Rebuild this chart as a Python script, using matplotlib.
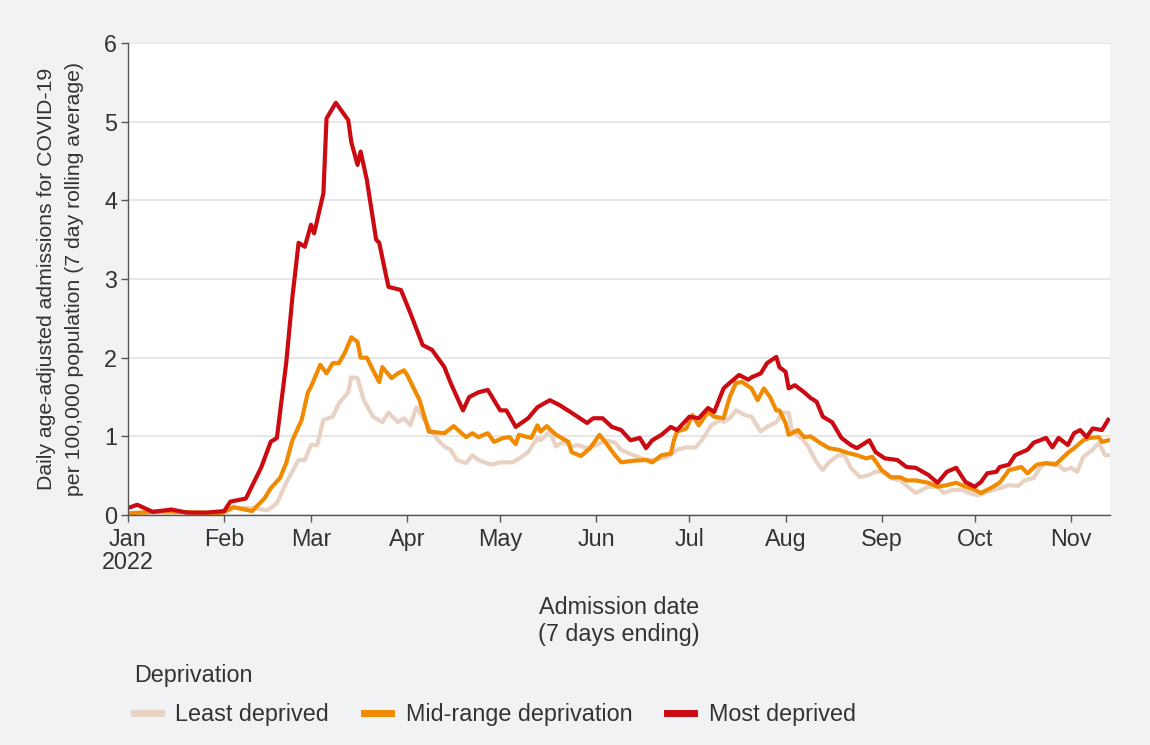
import numpy as np
import matplotlib.pyplot as plt
import matplotlib.dates as mdates
from matplotlib.ticker import FuncFormatter

plt.rcParams['font.family'] = ['Liberation Sans', 'DejaVu Sans']

# days counted from 1 Jan 2022
least_days = [0, 30, 34, 40, 45, 48, 51, 55, 57, 59, 61, 63, 66, 68, 71, 72, 74, 76, 79, 82, 84, 87, 89, 91,
              93, 96, 100, 102, 104, 106, 109, 111, 113, 117, 120, 124, 127, 129, 132, 133, 136, 138, 140, 143,
              145, 148, 151, 154, 157, 159, 163, 167, 170, 174, 177, 180, 183, 185, 188, 191, 192, 194, 196, 199,
              201, 204, 206, 209, 211, 213, 214, 217, 219, 222, 224, 226, 229, 231, 233, 236, 239, 241, 243, 246,
              249, 252, 254, 258, 261, 263, 266, 269, 271, 274, 276, 279, 281, 284, 287, 289, 292, 294, 296, 299,
              302, 304, 306, 308, 311, 313, 315, 316]
least_vals = [0.02, 0.01, 0.09, 0.09, 0.06, 0.15, 0.41, 0.70, 0.70, 0.89, 0.89, 1.21, 1.25, 1.42, 1.56, 1.75, 1.74,
              1.46, 1.25, 1.18, 1.30, 1.18, 1.23, 1.14, 1.37, 1.18, 0.95, 0.87, 0.83, 0.70, 0.66, 0.76, 0.70, 0.64,
              0.67, 0.67, 0.74, 0.80, 0.98, 0.95, 1.06, 0.87, 0.93, 0.87, 0.89, 0.85, 0.89, 0.95, 0.92, 0.83, 0.76,
              0.70, 0.70, 0.74, 0.83, 0.86, 0.86, 0.95, 1.14, 1.21, 1.18, 1.23, 1.33, 1.27, 1.25, 1.06, 1.12, 1.18,
              1.30, 1.30, 1.08, 0.98, 0.89, 0.67, 0.57, 0.67, 0.76, 0.76, 0.60, 0.48, 0.51, 0.55, 0.55, 0.47, 0.44,
              0.34, 0.28, 0.36, 0.36, 0.28, 0.32, 0.32, 0.28, 0.25, 0.28, 0.32, 0.34, 0.38, 0.37, 0.44, 0.47, 0.60,
              0.66, 0.66, 0.57, 0.60, 0.55, 0.74, 0.83, 0.92, 0.76, 0.76]

mid_days = [0, 11, 30, 34, 40, 44, 46, 49, 51, 53, 56, 58, 59, 62, 64, 66, 68, 70, 72, 74, 75, 77, 79, 81, 82, 85,
            87, 89, 90, 94, 97, 102, 105, 109, 111, 113, 116, 118, 121, 123, 125, 126, 130, 132, 133, 135, 138, 142,
            143, 146, 149, 152, 154, 157, 159, 163, 167, 169, 172, 175, 176, 177, 180, 182, 184, 187, 189, 192, 194,
            196, 198, 201, 203, 205, 207, 209, 210, 212, 213, 216, 218, 220, 223, 226, 229, 232, 235, 238, 240, 243,
            246, 249, 251, 254, 258, 261, 264, 267, 270, 273, 275, 278, 281, 284, 288, 290, 293, 296, 299, 303, 305,
            308, 310, 313, 314, 316]
mid_vals = [0.02, 0.05, 0.02, 0.10, 0.05, 0.21, 0.34, 0.47, 0.66, 0.95, 1.21, 1.56, 1.63, 1.91, 1.80, 1.93, 1.93,
            2.07, 2.26, 2.20, 2.00, 2.00, 1.84, 1.69, 1.88, 1.74, 1.80, 1.84, 1.78, 1.46, 1.06, 1.04, 1.13, 0.99,
            1.04, 0.99, 1.04, 0.93, 0.98, 0.99, 0.90, 1.02, 0.98, 1.14, 1.06, 1.13, 1.02, 0.93, 0.80, 0.75, 0.85,
            1.02, 0.92, 0.76, 0.67, 0.69, 0.70, 0.67, 0.76, 0.78, 0.95, 1.06, 1.10, 1.27, 1.14, 1.31, 1.25, 1.23,
            1.50, 1.68, 1.69, 1.61, 1.46, 1.61, 1.50, 1.33, 1.33, 1.17, 1.02, 1.08, 0.99, 1.00, 0.92, 0.85, 0.83,
            0.79, 0.76, 0.72, 0.74, 0.57, 0.48, 0.48, 0.44, 0.44, 0.41, 0.36, 0.38, 0.41, 0.36, 0.32, 0.28, 0.34,
            0.41, 0.57, 0.61, 0.53, 0.64, 0.66, 0.64, 0.79, 0.85, 0.95, 0.98, 0.99, 0.93, 0.95]

most_days = [0, 3, 8, 14, 19, 25, 31, 33, 38, 43, 46, 48, 51, 53, 55, 57, 59, 60, 63, 64, 67, 71, 72, 74, 75, 77,
             80, 81, 83, 84, 88, 91, 95, 98, 102, 104, 108, 110, 113, 116, 120, 122, 125, 129, 132, 136, 139, 143,
             148, 150, 153, 156, 159, 162, 165, 167, 169, 172, 175, 177, 181, 184, 187, 189, 192, 194, 197, 200, 201,
             204, 206, 209, 210, 212, 213, 215, 218, 220, 222, 224, 227, 230, 233, 235, 239, 241, 244, 248, 251, 254,
             258, 261, 264, 267, 270, 273, 275, 277, 280, 281, 284, 286, 290, 292, 296, 298, 300, 303, 305, 307, 309,
             311, 314, 316]
most_vals = [0.09, 0.13, 0.04, 0.07, 0.03, 0.03, 0.05, 0.17, 0.21, 0.61, 0.93, 0.98, 1.93, 2.77, 3.46, 3.41, 3.69,
             3.58, 4.09, 5.04, 5.24, 5.02, 4.74, 4.45, 4.62, 4.26, 3.50, 3.46, 3.08, 2.90, 2.86, 2.57, 2.16, 2.10,
             1.88, 1.68, 1.33, 1.50, 1.56, 1.59, 1.33, 1.33, 1.12, 1.23, 1.37, 1.46, 1.40, 1.30, 1.17, 1.23, 1.23,
             1.12, 1.08, 0.95, 0.98, 0.85, 0.95, 1.02, 1.12, 1.08, 1.25, 1.23, 1.36, 1.31, 1.61, 1.68, 1.78, 1.72,
             1.75, 1.80, 1.93, 2.01, 1.88, 1.82, 1.61, 1.65, 1.56, 1.49, 1.44, 1.25, 1.18, 0.98, 0.89, 0.85, 0.95,
             0.80, 0.72, 0.70, 0.61, 0.60, 0.51, 0.41, 0.55, 0.60, 0.42, 0.36, 0.42, 0.53, 0.55, 0.61, 0.64, 0.76,
             0.83, 0.92, 0.98, 0.86, 0.98, 0.89, 1.04, 1.08, 0.99, 1.10, 1.08, 1.21]

labels = ["Least deprived", "Mid-range deprivation", "Most deprived"]
colors = ["#e8d2c4", "#f08a00", "#cc0a12"]

start = np.datetime64("2022-01-01")


def to_dates(days):
    return start + np.array(days, dtype="timedelta64[D]")


fig = plt.figure(figsize=(11.5, 7.45), dpi=100, facecolor="#f1f2f4")
ax = fig.add_axes([0.1113, 0.3087, 0.8539, 0.6336])
ax.set_facecolor("white")

for days, vals, lab, col in zip([least_days, mid_days, most_days],
                                [least_vals, mid_vals, most_vals], labels, colors):
    ax.plot(to_dates(days), vals, color=col, lw=3.0, label=lab, solid_joinstyle="round")

ax.set_ylim(0, 6)
ax.set_yticks(range(7))
ax.set_xlim(start, np.datetime64("2022-11-13T14:00"))
ax.xaxis.set_major_locator(mdates.MonthLocator())
ax.xaxis.set_major_formatter(FuncFormatter(
    lambda x, pos: mdates.num2date(x).strftime("%b\n%Y") if mdates.num2date(x).month == 1
    else mdates.num2date(x).strftime("%b")))

ax.grid(axis="y", color="#e3e3e3", lw=1.2)
ax.set_axisbelow(True)
for s in ["top", "right"]:
    ax.spines[s].set_visible(False)
for s in ["left", "bottom"]:
    ax.spines[s].set_color("#555555")
    ax.spines[s].set_linewidth(1.0)
ax.tick_params(colors="#555555", labelcolor="#333333", labelsize=16.8, length=5, width=1.0, pad=3)
ax.tick_params(axis="x", pad=4)
for t in ax.get_xticklabels():
    t.set_linespacing(1.0)

ax.set_ylabel("Daily age-adjusted admissions for COVID-19\nper 100,000 population (7 day rolling average)",
              fontsize=15.3, color="#333333", labelpad=14, linespacing=1.6)
ax.set_xlabel("Admission date\n(7 days ending)", fontsize=16.8, color="#333333", labelpad=16, linespacing=1.25)

leg = fig.legend(loc="upper left", bbox_to_anchor=(0.098, 0.137), ncol=3, frameon=False,
                 title="Deprivation", fontsize=16.8, title_fontsize=16.8, handlelength=1.16,
                 handletextpad=0.62, columnspacing=1.5, labelspacing=0.68, labelcolor="#333333")
leg._legend_box.align = "left"
leg.get_title().set_color("#333333")
for h in leg.legend_handles:
    h.set_linewidth(5)

fig.savefig("out.png", dpi=100, facecolor=fig.get_facecolor())
